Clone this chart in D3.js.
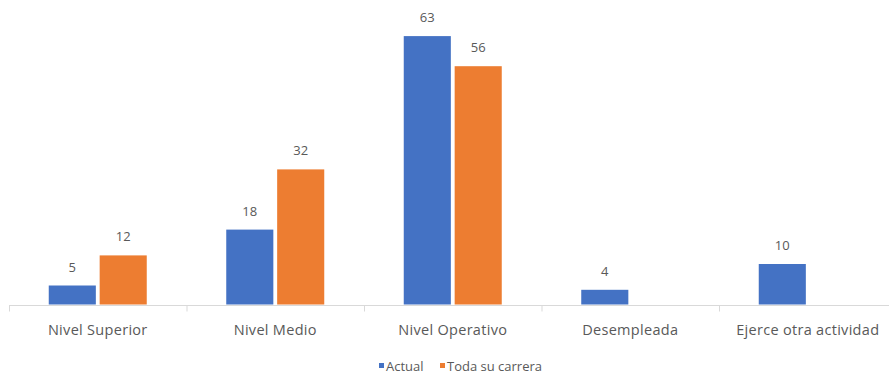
<!DOCTYPE html>
<html><head><meta charset="utf-8">
<script src="https://cdn.jsdelivr.net/npm/d3@7"></script>
<style>body{margin:0;background:#fff}svg{display:block}text{font-family:"Open Sans",sans-serif;fill:#595959}</style>
</head><body>
<svg id="c" width="889" height="373"></svg>
<script>
const categories = ["Nivel Superior","Nivel Medio","Nivel Operativo","Desempleada","Ejerce otra actividad"];
const seriesNames = ["Actual","Toda su carrera"];
const actual = [5,18,63,4,10];
const carrera = [12,32,56,null,null];
const colors = ["#4472C4","#ED7D31"];

const svg = d3.select("#c");
const x0 = d3.scaleBand().domain(categories).range([9, 896.5]).paddingInner(0).paddingOuter(0);
const x1 = d3.scaleBand().domain(seriesNames).range([0, 98]).paddingInner(0.075);
const y = d3.scaleLinear().domain([0,70]).range([307, 6]);
const base = 304.5;
const groupOffset = (x0.bandwidth() - 98)/2;

const data = categories.map((c,i)=>({c, vals:[{s:seriesNames[0],v:actual[i]},{s:seriesNames[1],v:carrera[i]}]}));

const g = svg.selectAll("g.cat").data(data).join("g").attr("class","cat")
  .attr("transform", d=>`translate(${x0(d.c)+groupOffset},0)`);
g.selectAll("rect").data(d=>d.vals.filter(v=>v.v!=null)).join("rect")
  .attr("x", d=>x1(d.s)).attr("width", x1.bandwidth())
  .attr("y", d=>y(d.v)).attr("height", d=>base-y(d.v))
  .attr("fill", (d)=>colors[seriesNames.indexOf(d.s)]);
g.selectAll("text").data(d=>d.vals.filter(v=>v.v!=null)).join("text")
  .attr("x", d=>x1(d.s)+x1.bandwidth()/2).attr("y", d=>y(d.v)-14)
  .attr("text-anchor","middle").style("font-size","13px").text(d=>d.v);

// axis
const ax = svg.append("g").attr("transform","translate(0,305.5)");
ax.append("line").attr("x1",9).attr("x2",889).attr("stroke","#D9D9D9").attr("stroke-width",1);
ax.selectAll("line.tk").data(x0.domain().concat([null])).join("line").attr("class","tk")
  .attr("x1",(d,i)=>9+i*x0.step()+0.5).attr("x2",(d,i)=>9+i*x0.step()+0.5)
  .attr("y1",0).attr("y2",6).attr("stroke","#D9D9D9");
ax.selectAll("text.lbl").data(categories).join("text").attr("class","lbl")
  .attr("x",d=>x0(d)+x0.bandwidth()/2).attr("y",29)
  .attr("text-anchor","middle").style("font-size","14.5px").style("letter-spacing","0.3px").text(d=>d);

// legend
const leg = svg.append("g");
const legItems = [{n:seriesNames[0],x:379},{n:seriesNames[1],x:440}];
legItems.forEach((it,i)=>{
  leg.append("rect").attr("x",it.x).attr("y",363).attr("width",5).attr("height",5).attr("fill",colors[i]);
  leg.append("text").attr("x",it.x+7).attr("y",370.5).style("font-size","13px").text(it.n);
});
</script>
</body></html>
